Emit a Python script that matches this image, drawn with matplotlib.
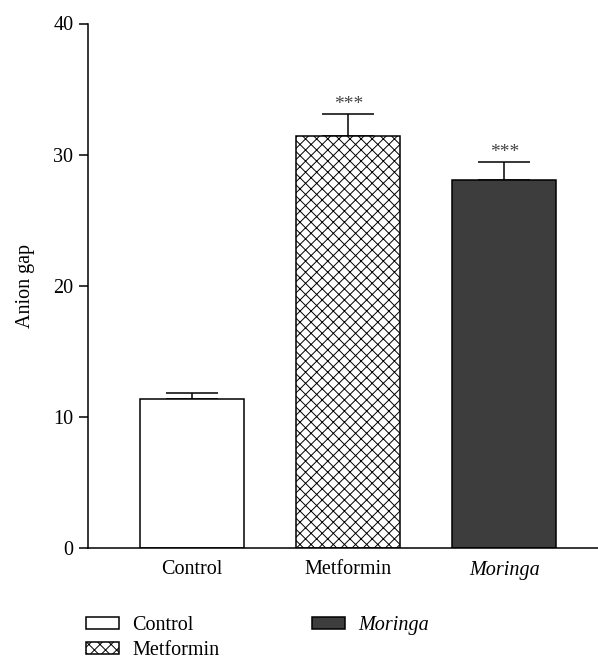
import numpy as np
import matplotlib
matplotlib.use('Agg')
import matplotlib.pyplot as plt

groups = ['Control', 'Metformin', 'Moringa']
means = [11.4, 31.4, 28.1]
errors = [0.4, 1.7, 1.3]
stars = ['', '***', '***']
yticks = [0, 10, 20, 30, 40]

plt.rcParams['font.family'] = ['Liberation Serif', 'DejaVu Serif']
plt.rcParams['hatch.color'] = '#808080'
plt.rcParams['hatch.linewidth'] = 0.7


def main():
    fig = plt.figure(figsize=(5.98, 6.62), dpi=100)
    ax = fig.add_axes([88 / 598, 1 - 548 / 662, 1 - 88 / 598, (548 - 23.5) / 662])

    x = np.arange(len(groups))
    faces = ['white', 'white', '#3d3d3d']
    hatches = [None, 'xxx', None]
    bars = []
    for i in range(len(groups)):
        b = ax.bar(x[i], means[i], width=0.665, color=faces[i], edgecolor='black',
                   linewidth=1.1, hatch=hatches[i], zorder=2, label=groups[i])
        bars.append(b)
        ax.errorbar(x[i], means[i], yerr=[[0], [errors[i]]], fmt='none',
                    ecolor='black', elinewidth=1.1, capsize=18.5, capthick=1.1, zorder=1)
        if stars[i]:
            ax.annotate(stars[i], (x[i], means[i] + errors[i]), xytext=(0, 1),
                        textcoords='offset points', ha='center', va='bottom',
                        fontsize=14, color='#444444')

    ax.set_xlim(-0.667, 2.6)
    ax.set_ylim(0, 40)
    ax.set_yticks(yticks)
    ax.set_xticks(x)
    ax.set_xticklabels(groups, fontsize=14.5)
    ax.get_xticklabels()[2].set_style('italic')
    ax.tick_params(axis='x', length=0, pad=9)
    ax.tick_params(axis='y', length=6.5, width=1.1, labelsize=14.5, pad=4)
    ax.set_ylabel('Anion gap', fontsize=14.5, labelpad=13)
    for s in ['top', 'right']:
        ax.spines[s].set_visible(False)
    for s in ['left', 'bottom']:
        ax.spines[s].set_linewidth(1.1)

    leg = fig.legend(handles=[b[0] for b in bars], labels=groups, ncol=2,
                     loc='upper left', bbox_to_anchor=(86 / 598, 1 - 616 / 662),
                     frameon=False, fontsize=14.5, borderpad=0, borderaxespad=0,
                     handlelength=1.65, handleheight=0.58, handletextpad=0.65,
                     labelspacing=0.3, columnspacing=4.6)
    leg.get_texts()[2].set_style('italic')

    fig.savefig('out.png', dpi=100)


if __name__ == "__main__":
    main()
